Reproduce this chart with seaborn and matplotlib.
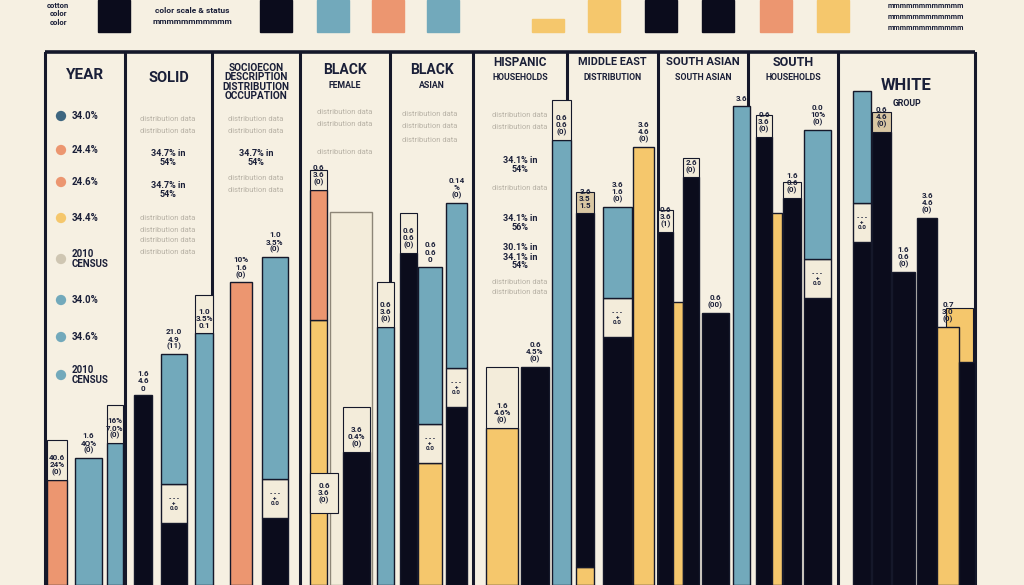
import matplotlib
matplotlib.use("Agg")
import matplotlib.pyplot as plt
import seaborn as sns
import pandas as pd

# ---------------- data ----------------
groups = ["YEAR", "SOLID", "SOCIOECON", "BLACK", "BLACK ASIAN", "HISPANIC",
          "MIDDLE EAST", "SOUTH ASIAN", "SOUTH", "WHITE"]
group_titles = ["YEAR", "SOLID", "SOCIOECON\nDESCRIPTION\nDISTRIBUTION\nOCCUPATION",
                "BLACK", "BLACK", "HISPANIC", "MIDDLE EAST", "SOUTH ASIAN",
                "SOUTH", "WHITE"]
group_subtitles = ["", "", "", "FEMALE", "ASIAN", "HOUSEHOLDS", "DISTRIBUTION",
                   "SOUTH ASIAN", "HOUSEHOLDS", "GROUP"]

legend_labels = ["34.0%", "24.4%", "24.6%", "34.4%", "2010\nCENSUS",
                 "34.0%", "34.6%", "2010\nCENSUS"]
legend_series = ["navy", "orange", "orange", "yellow", "beige", "blue", "blue", "blue"]

# bar totals (share, %)
bar_values = [19.7, 23.8, 26.6, 35.6, 43.3, 47.3, 56.8, 61.5, 74.1, 25.0,
              48.4, 62.3, 59.7, 71.7, 29.5, 40.9, 83.5, 69.8, 70.9, 82.2,
              66.2, 53.1, 76.5, 51.0, 89.9, 84.1, 69.8, 72.6, 85.4, 92.7,
              85.0, 58.7, 68.9, 48.4, 41.8]
bar_series = ["orange", "blue", "blue", "black", "blue", "blue", "orange", "blue",
              "orange", "black", "blue", "black", "blue", "blue", "yellow", "black",
              "blue", "black", "blue", "yellow", "black", "yellow", "black", "black",
              "blue", "black", "yellow", "black", "blue", "blue", "black", "black",
              "black", "yellow", "black"]
# lower stacked segment
base_values = [0, 0, 0, 0, 11.6, 0, 0, 12.6, 49.7, 0, 0, 0, 22.9, 33.4, 0, 0,
               0, 3.4, 46.5, 0, 0, 0, 0, 0, 0, 0, 0, 0, 53.8, 64.4, 0, 0, 0, 0, 0]
base_series = ["", "", "", "", "black", "", "", "black", "yellow", "", "", "",
               "yellow", "black", "", "", "", "yellow", "black", "", "", "", "",
               "", "", "", "", "", "black", "black", "", "", "", "", ""]
bar_labels = ["40.6\n24%\n(0)", "1.6\n4Q%\n(0)", "16%\n7.0%\n(0)", "1.6\n4.6\n0",
              "21.0\n4.9\n(11)", "1.0\n3.5%\n0.1", "10%\n1.6\n(0)", "1.0\n3.5%\n(0)",
              "0.6\n3.6\n(0)", "3.6\n0.4%\n(0)", "0.6\n3.6\n(0)", "0.6\n0.6\n(0)",
              "0.6\n0.6\n0", "0.14\n%\n(0)", "1.6\n4.6%\n(0)", "0.6\n4.5%\n(0)",
              "0.6\n0.6\n(0)", "3.6\n3.5\n1.5", "3.6\n1.6\n(0)", "3.6\n4.6\n(0)",
              "0.6\n3.6\n(1)", "", "2.6\n(0)", "0.6\n(00)", "3.6", "0.6\n3.6\n(0)",
              "", "1.6\n0.6\n(0)", "0.0\n10%\n(0)", "", "0.6\n4.6\n(0)",
              "1.6\n0.6\n(0)", "3.6\n4.6\n(0)", "0.7\n3.0\n(0)", ""]

top_strip_series = ["black", "black", "blue", "orange", "blue", "yellow", "yellow",
                    "black", "black", "orange", "yellow"]
top_strip_values = [100, 100, 100, 100, 100, 40, 100, 100, 100, 100, 100]

# ---------------- layout / style ----------------
bar_left = [47, 75, 107, 134, 161, 195, 230, 262, 310, 343, 377, 400, 418, 446,
            486, 521, 552, 576, 603, 633, 658, 673, 683, 702, 733, 756, 772, 783,
            804, 853, 872, 892, 917, 937, 959]
bar_right = [67, 102, 123, 152, 187, 213, 252, 288, 327, 370, 394, 417, 442, 467,
             518, 549, 571, 594, 632, 654, 673, 683, 699, 729, 750, 772, 782, 801,
             831, 871, 891, 915, 937, 959, 975]
cap_height = [7.5, 0, 7.1, 0, 0, 7.1, 0, 0, 3.8, 8.4, 8.4, 7.5, 0, 0, 11.4, 0,
              7.5, 3.9, 0, 0, 4.1, 0, 3.6, 0, 0, 4.1, 0, 3.0, 0, 0, 3.8, 0, 0, 0, 0]
box_height = 7.3
separators = [45, 125, 212, 300, 390, 473, 567, 658, 748, 838, 975]
strip_left = [98, 260, 317, 372, 427, 532, 588, 645, 702, 760, 817]
strip_w = 32

palette = {"black": "#0b0c1c", "blue": "#72a9bb", "orange": "#ec9670",
           "yellow": "#f5c76c", "beige": "#cfc6b2", "navy": "#3e6680",
           "tan": "#d9c7a3"}
BG = "#f6f0e2"
BOX = "#f3ecda"
INK = "#1a1f38"
EDGE = "#15182a"

sns.set_theme(style="white")
plt.rcParams["font.family"] = ["Roboto", "DejaVu Sans"]
plt.rcParams["font.weight"] = "bold"

W, H = 1024, 585
fig = plt.figure(figsize=(10.24, 5.85), dpi=100, facecolor=BG)

# main bar axes: value 0 at image bottom, 100 at the top frame line (y=52 px)
ax = fig.add_axes([0, 0, 1, (H - 52) / H])
ax.set_xlim(0, W)
ax.set_ylim(0, 100)
ax.set_facecolor(BG)
ax.axis("off")

for s in separators:
    ax.axvline(s, color=EDGE, lw=2.2, zorder=1)

# ghost outlined bar
ax.bar(351, 70, width=42, color=BOX, edgecolor="#8d8678", lw=1.0, zorder=1.5)

for i, v in enumerate(bar_values):
    xc = (bar_left[i] + bar_right[i]) / 2
    w = bar_right[i] - bar_left[i]
    b = base_values[i]
    if b > 0:
        ax.bar(xc, b, width=w, color=palette[base_series[i]], edgecolor=EDGE,
               lw=1.0, zorder=2)
    bottom = b
    if b > 0 and i not in (8, 17):
        ax.bar(xc, box_height, width=w, bottom=b, color=BOX, edgecolor=EDGE,
               lw=1.0, zorder=2)
        ax.text(xc, b + box_height / 2, "- - -\n+\n0.0", ha="center", va="center",
                fontsize=4.5, color=INK, linespacing=1.0, zorder=4)
        bottom = b + box_height
    ax.bar(xc, v - bottom, width=w, bottom=bottom, color=palette[bar_series[i]],
           edgecolor=EDGE, lw=1.0, zorder=2)
    if cap_height[i] > 0:
        ax.bar(xc, cap_height[i], width=w, bottom=v,
               color=palette["tan"] if i in (17, 30) else BOX,
               edgecolor=EDGE, lw=0.8, zorder=2)
    if bar_labels[i]:
        ax.text(xc, v + 0.7, bar_labels[i], ha="center", va="bottom", fontsize=5.8,
                color=INK, linespacing=1.05, zorder=4)

# inner label box for the orange/yellow bar and extra yellow block near WHITE
ax.bar(324, 7.5, width=28, bottom=13.5, color=BOX, edgecolor=EDGE, lw=0.8, zorder=2.5)
ax.text(324, 17.2, "0.6\n3.6\n(0)", ha="center", va="center", fontsize=5.8,
        color=INK, linespacing=1.0, zorder=4)
ax.bar(959.5, 10.7, width=27, bottom=41.3, color=palette["yellow"], edgecolor=EDGE,
       lw=0.8, zorder=1.8)

# overlay axes in pixel coordinates for frame, titles, legend
ov = fig.add_axes([0, 0, 1, 1], zorder=5)
ov.set_xlim(0, W)
ov.set_ylim(H, 0)
ov.patch.set_alpha(0)
ov.axis("off")
ov.plot([45, 975], [52, 52], color=EDGE, lw=2.6, solid_capstyle="butt")

title_y = [75, 78, 82, 70, 70, 62, 62, 62, 62, 86]
title_size = [11, 10.5, 7.2, 10, 10, 8.5, 7.8, 8.2, 9, 12]
for g in range(len(groups)):
    cx = (separators[g] + separators[g + 1]) / 2
    ov.text(cx, title_y[g], group_titles[g], ha="center", va="center",
            fontsize=title_size[g], color=INK, linespacing=0.9)
    if group_subtitles[g]:
        ov.text(cx, title_y[g] + (18 if g == 9 else 16), group_subtitles[g],
                ha="center", va="center", fontsize=6.3, color=INK)

# faint descriptive lines
faint = [(168, 119), (168, 131), (256, 119), (256, 131), (256, 178), (256, 190),
         (168, 218), (168, 230), (168, 240), (168, 252), (345, 112), (345, 124),
         (345, 152), (430, 114), (430, 126), (430, 140), (520, 115), (520, 127),
         (520, 188), (520, 282), (520, 292)]
for fx, fy in faint:
    ov.text(fx, fy, "distribution data", ha="center", va="center",
            fontsize=5.5, color="#b8b2a6", fontweight="normal")
mid = [(168, 158, "34.7% in\n54%"), (168, 190, "34.7% in\n54%"),
       (256, 158, "34.7% in\n54%"), (520, 165, "34.1% in\n54%"),
       (520, 223, "34.1% in\n56%"), (520, 257, "30.1% in\n34.1% in\n54%")]
for mx, my, mt in mid:
    ov.text(mx, my, mt, ha="center", va="center", fontsize=6.5, color=INK,
            linespacing=1.0)

# legend dots in the YEAR panel
leg = pd.DataFrame({"x": [61] * len(legend_labels),
                    "y": [116, 150, 182, 218, 259, 300, 337, 375],
                    "series": legend_series})
sns.scatterplot(data=leg, x="x", y="y", hue="series", palette=palette, s=55,
                edgecolor="none", legend=False, ax=ov)
for yy, lab in zip(leg["y"], legend_labels):
    ov.text(72, yy, lab, ha="left", va="center", fontsize=7, color=INK,
            linespacing=1.0)

# top strip (cut-off legend swatches)
for xl, sser, sv in zip(strip_left, top_strip_series, top_strip_values):
    hh = 32 * sv / 100
    ov.add_patch(plt.Rectangle((xl, 32 - hh), strip_w, hh, color=palette[sser], zorder=2))
ov.text(58, 14, "cotton\ncolor\ncolor", ha="center", va="center", fontsize=5.5,
        color=INK, linespacing=1.2)
ov.text(192, 16, "color scale & status\nmmmmmmmmmmm", ha="center", va="center",
        fontsize=6, color=INK, linespacing=1.6)
ov.text(926, 17, "mmmmmmmmmmmm\nmmmmmmmmmmmm\nmmmmmmmmmmmm",
        ha="center", va="center", fontsize=5.3, color=INK, linespacing=1.5)

fig.savefig("out.png", dpi=100, facecolor=BG)
